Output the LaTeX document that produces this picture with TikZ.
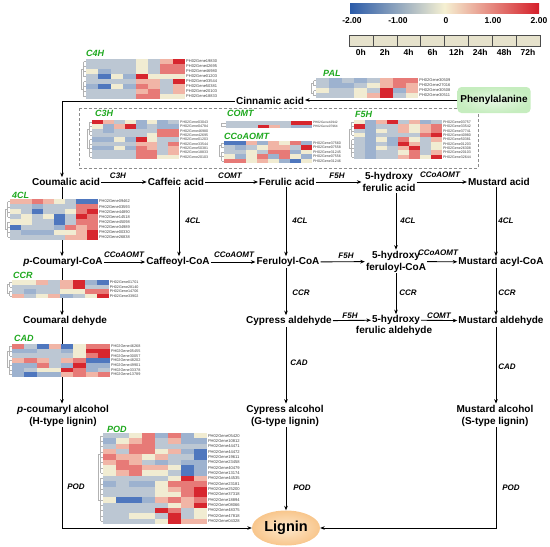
\documentclass[tikz,border=0pt]{standalone}
\usepackage{fontspec}
\setmainfont{Liberation Sans}
\usetikzlibrary{arrows.meta,shapes.geometric}
\definecolor{hB}{HTML}{4F77BE}
\definecolor{hb}{HTML}{9DB2CF}
\definecolor{hg}{HTML}{BCC7D3}
\definecolor{hc}{HTML}{F1ECD2}
\definecolor{hs}{HTML}{F1B5A6}
\definecolor{hr}{HTML}{E77A77}
\definecolor{hR}{HTML}{D7262E}
\definecolor{lgB}{HTML}{2B5BA9}
\definecolor{lgC}{HTML}{F5F0D2}
\definecolor{lgR}{HTML}{D51F2A}
\definecolor{tbox}{HTML}{E6E2CC}
\definecolor{ttlgreen}{HTML}{1EA81E}
\definecolor{phegreen}{HTML}{C6EDBF}
\definecolor{ligin}{HTML}{FDE8CC}
\definecolor{ligout}{HTML}{F8C68C}
\newcommand\heat[8]{%
 \pgfmathsetmacro\hk{int(floor(#6/2))}%
 \pgfmathsetmacro\ya{#2+0.5*#4}%
 \pgfmathsetmacro\yb{#2+(\hk-0.5)*#4}%
 \pgfmathsetmacro\yc{#2+(\hk+0.5)*#4}%
 \pgfmathsetmacro\yd{#2+(#6-0.5)*#4}%
 \pgfmathsetmacro\xa{#1-2.5}%
 \pgfmathsetmacro\xb{#1-5}%
 \draw[dendro] (\xa,\ya) -- (\xa,\yb) (\xa,\yc) -- (\xa,\yd)
   (\xa,{(\ya+\yb)/2}) -- (\xb,{(\ya+\yb)/2}) -- (\xb,{(\yc+\yd)/2}) -- (\xa,{(\yc+\yd)/2});
 \foreach \ri in {1,...,#6} \draw[dendro] (\xa,{#2+(\ri-0.5)*#4}) -- (#1,{#2+(\ri-0.5)*#4});
 \foreach \gn/\qa/\qb/\qc/\qd/\qe/\qf/\qg/\qh [count=\ri] in {#8} {
   \foreach \qq [count=\ci] in {\qa,\qb,\qc,\qd,\qe,\qf,\qg,\qh}
     \fill[fill=h\qq] ({#1+(\ci-1)*#3},{#2+(\ri-1)*#4}) rectangle ++(#3,#4);
   \node[gene, font=\fontsize{#5}{#5}\selectfont] (#7\ri) at ({#1+8*#3+0.6},{#2+(\ri-0.5)*#4}) {PH02Gene\gn};
 }%
}
\begin{document}
\begin{tikzpicture}[x=1pt,y=-1pt,
  met/.style={font=\bfseries\fontsize{10}{12}\selectfont, align=center, inner sep=1pt},
  enz/.style={font=\bfseries\itshape\fontsize{8}{9}\selectfont, inner sep=0pt},
  ttl/.style={font=\bfseries\itshape\fontsize{9}{10}\selectfont, text=ttlgreen, anchor=west, inner sep=0pt},
  gene/.style={anchor=west, inner sep=0.2pt, text=black!75},
  dendro/.style={draw=black!30, line width=0.3pt},
  arr/.style={-{Stealth[length=4.5pt,width=3.6pt]}, line width=0.9pt},
  lgl/.style={font=\bfseries\fontsize{8.5}{9}\selectfont, inner sep=0pt},
  dashbox/.style={draw=black!45, dash pattern=on 3pt off 2pt, line width=0.7pt},
  phebox/.style={rectangle, rounded corners=4pt, inner color=phegreen!40, outer color=phegreen, minimum width=73pt, minimum height=26pt},
  lignin/.style={ellipse, inner color=ligin, outer color=ligout, minimum width=68pt, minimum height=35pt, font=\bfseries\fontsize{14.5}{15}\selectfont, inner sep=0pt}
]
\useasboundingbox (0,0) rectangle (550,547);
% legend
\shade[left color=lgB, right color=lgR, middle color=lgC] (350,3) rectangle (539,13);
\foreach \v/\xx [count=\i] in {-2.00/352,-1.00/398,0/446,1.00/493,2.00/539}
  \node[lgl] (lg\i) at (\xx,21) {\v};
\foreach \t [count=\i] in {0h,2h,4h,6h,12h,24h,48h,72h} {
  \draw[fill=tbox, draw=black!70, line width=0.5pt] ({349+(\i-1)*23.875},35) rectangle ++(23.875,11);
  \node[lgl] (t\i) at ({349+(\i-0.5)*23.875},52) {\t};
}
% dashed box
\draw[dashbox] (79,108) rectangle (478,168);
% column coordinates
\coordinate (colA) at (62,0);
\coordinate (colB) at (179,0);
\coordinate (colC) at (286,0);
\coordinate (colD) at (396,0);
\coordinate (colE) at (496,0);
% metabolites
\node[met] (cin) at (270,101) {Cinnamic acid};
\node[met, phebox] (phe) at (494,100) {Phenylalanine};
\node[met] (cou) at (66,182) {Coumalic acid};
\node[met] (caf) at (176,182) {Caffeic acid};
\node[met] (fer) at (287,182) {Ferulic acid};
\node[met] (hfa) at (389,182) {5-hydroxy\\ferulic acid};
\node[met] (mus) at (499,182) {Mustard acid};
\node[met] (pco) at (63,262) {\textit{p}-Coumaryl-CoA};
\node[met] (cfc) at (178,262) {Caffeoyl-CoA};
\node[met] (frc) at (288,262) {Feruloyl-CoA};
\node[met] (hfc) at (396,261.5) {5-hydroxy\\feruloyl-CoA};
\node[met] (mac) at (501,262) {Mustard acyl-CoA};
\node[met] (cald) at (65,321) {Coumaral dehyde};
\node[met] (cyal) at (289,321) {Cypress aldehyde};
\node[met] (hfal1) at (396,320) {5-hydroxy};
\node[met] (hfal2) at (394,331) {ferulic aldehyde};
\node[met] (mal) at (501,321) {Mustard aldehyde};
\node[met] (palc) at (63,415.5) {\textit{p}-coumaryl alcohol\\(H-type lignin)};
\node[met] (cyalc) at (285,415.5) {Cypress alcohol\\(G-type lignin)};
\node[met] (malc) at (495,415.5) {Mustard alcohol\\(S-type lignin)};
\node[lignin] (lig) at (286,528) {Lignin};
% connectors
\draw[arr] (phe.west) -- (phe.west -| cin.east);
\draw[arr] (cin.west) -| (cou.north -| colA);
\draw[arr] (cou) -- (caf);
\draw[arr] (caf) -- (fer);
\draw[arr] (fer) -- (hfa);
\draw[arr] (hfa) -- (mus);
\draw[arr] (pco) -- (cfc);
\draw[arr] (cfc) -- (frc);
\draw[arr] (frc) -- (hfc);
\draw[arr] (hfc) -- (mac);
\draw[arr] (cyal) -- (hfal1);
\draw[arr] (hfal1) -- (mal);
\draw[arr] (cou.south -| colA) -- (pco.north -| colA);
\draw[arr] (caf.south -| colB) -- (cfc.north -| colB);
\draw[arr] (fer.south -| colC) -- (frc.north -| colC);
\draw[arr] (hfa.south -| colD) -- (hfc.north -| colD);
\draw[arr] (mus.south -| colE) -- (mac.north -| colE);
\draw[arr] (pco.south -| colA) -- (cald.north -| colA);
\draw[arr] (frc.south -| colC) -- (cyal.north -| colC);
\draw[arr] (hfc.south -| colD) -- (hfal1.north -| colD);
\draw[arr] (mac.south -| colE) -- (mal.north -| colE);
\draw[arr] (cald.south -| colA) -- (palc.north -| colA);
\draw[arr] (cyal.south -| colC) -- (cyalc.north -| colC);
\draw[arr] (mal.south -| colE) -- (malc.north -| colE);
\draw[arr] (palc.south -| colA) |- (lig.west);
\draw[arr] (cyalc.south -| colC) -- (lig.north -| colC);
\draw[arr] (malc.south -| colE) |- (lig.east);
% enzyme labels
\node[enz] (e1) at (118,176) {C3H};
\node[enz] (e2) at (230,176) {COMT};
\node[enz] (e3) at (337,176) {F5H};
\node[enz] (e4) at (440,175) {CCoAOMT};
\node[enz] (e5) at (124,255) {CCoAOMT};
\node[enz] (e6) at (234,255) {CCoAOMT};
\node[enz] (e7) at (346,256) {F5H};
\node[enz] (e8) at (438,253) {CCoAOMT};
\node[enz] (e9) at (350,316) {F5H};
\node[enz] (e10) at (439,316) {COMT};
\node[enz] (e11) at (193,221) {4CL};
\node[enz] (e12) at (300,221) {4CL};
\node[enz] (e13) at (408,221) {4CL};
\node[enz] (e14) at (506,221) {4CL};
\node[enz] (e15) at (301,293) {CCR};
\node[enz] (e16) at (408,293) {CCR};
\node[enz] (e17) at (507,293) {CCR};
\node[enz] (e18) at (299,363) {CAD};
\node[enz] (e19) at (507,367) {CAD};
\node[enz] (e20) at (76,487) {POD};
\node[enz] (e21) at (302,488) {POD};
\node[enz] (e22) at (511,488) {POD};
% heatmaps
\node[ttl] (tC4H) at (86,53) {C4H};
\heat{86}{59}{12.4}{5}{4}{8}{gc4h}{19830/g/g/g/g/c/g/s/R, 42695/g/g/g/g/c/g/r/r, 46980/c/b/g/g/c/g/r/r, 01203/g/B/c/b/R/c/c/c, 33544/g/g/g/g/s/s/g/R, 50381/b/B/c/b/r/s/g/s, 20103/g/g/g/g/s/r/g/s, 18833/g/g/g/g/r/r/c/c}
\node[ttl] (tPAL) at (323,73) {PAL};
\heat{316}{78}{12.8}{5}{4}{4}{gpal}{30509/g/b/g/b/g/s/r/r, 27016/g/b/b/g/c/s/r/s, 30508/c/g/g/c/g/R/b/s, 30511/g/g/g/c/s/R/g/c}
\node[ttl] (tC3H) at (95,113) {C3H};
\heat{92}{120}{10.9}{4.35}{3.6}{9}{gc3h}{03043/R/s/g/c/b/c/b/g, 04784/c/b/s/R/b/g/b/b, 46980/g/b/g/g/g/g/r/r, 42695/g/g/g/g/g/c/r/r, 01203/b/b/c/b/R/c/g/g, 33544/g/g/g/g/s/s/g/r, 50381/b/b/c/b/r/s/g/s, 18833/g/g/g/g/r/r/g/s, 20103/g/g/g/g/r/r/c/c}
\node[ttl] (tCOMT) at (227,113) {COMT};
\heat{226}{121}{10.75}{3.6}{3.2}{2}{gcomt}{42942/g/g/g/g/g/g/R/R, 07964/g/g/g/R/s/g/b/b}
\node[ttl] (tCCo) at (224,136) {CCoAOMT};
\heat{224}{141}{11}{4.4}{3.6}{5}{gcco}{37560/B/B/s/b/s/c/r/b, 07558/g/b/g/c/s/s/g/R, 31245/g/g/c/g/r/r/b/c, 07556/c/b/c/r/b/r/c/b, 31246/r/r/c/s/c/b/B/c}
\node[ttl] (tF5H) at (355,114) {F5H};
\heat{354}{120}{11}{4.35}{3.6}{9}{gf5h}{03757/c/b/s/R/g/s/b/g, 33542/R/b/g/g/s/c/s/r, 37741/g/b/c/g/s/c/s/r, 40980/c/b/g/g/g/g/r/R, 50381/g/b/c/b/r/c/g/s, 01203/g/b/g/b/R/s/g/c, 26308/g/b/c/g/s/R/g/c, 20103/g/b/g/g/c/r/g/s, 32644/g/b/g/g/s/r/c/R}
\node[ttl] (t4CL) at (12,195) {4CL};
\heat{10}{199}{11}{5.1}{4}{8}{g4cl}{09462/s/s/r/s/c/g/B/B, 03593/g/g/b/g/g/g/r/r, 44890/c/g/B/g/g/c/r/R, 14518/g/c/g/c/B/g/R/r, 45098/c/c/g/g/B/g/r/r, 34989/B/g/g/g/b/r/s/r, 00330/g/b/b/b/c/c/s/R, 26838/g/g/g/g/g/s/s/R}
\node[ttl] (tCCR) at (13,275) {CCR};
\heat{12}{280}{12.1}{4.5}{3.7}{4}{gccr}{01701/c/c/s/g/s/R/b/B, 28140/g/g/g/g/s/R/g/g, 14706/g/b/g/g/c/c/r/r, 33902/s/g/c/s/b/g/c/R}
\node[ttl] (tCAD) at (14,338) {CAD};
\heat{12}{344}{12.25}{4.7}{3.8}{7}{gcad}{46268/r/g/B/s/B/c/r/r, 05455/b/b/g/g/b/c/R/R, 30057/g/g/g/g/g/c/r/R, 48202/s/r/s/g/s/r/B/B, 49901/b/b/r/g/b/R/b/b, 33378/b/g/c/c/R/r/b/g, 13789/b/B/b/b/s/r/s/r}
\node[ttl] (tPOD) at (107,429) {POD};
\heat{103}{433}{13}{5.35}{4.1}{17}{gpod}{05420/g/g/c/r/b/r/b/c, 10812/b/c/s/r/g/s/b/b, 44471/g/s/r/r/g/g/g/g, 44472/s/g/r/r/c/s/b/B, 19611/r/s/s/c/s/g/g/B, 23458/s/r/s/g/b/g/b/b, 40479/c/r/r/s/s/c/B/b, 13174/c/s/r/c/c/g/B/b, 44535/g/g/g/g/g/c/R/s, 23181/b/g/b/b/c/r/r/r, 25200/g/g/g/g/c/s/r/R, 37318/g/g/g/g/c/c/r/R, 18894/c/B/B/b/s/r/s/r, 08066/g/g/g/g/g/c/s/R, 48375/g/g/g/g/R/r/g/c, 47818/g/g/c/c/g/R/g/c, 04328/g/g/g/g/c/R/s/s}
\end{tikzpicture}
\end{document}
